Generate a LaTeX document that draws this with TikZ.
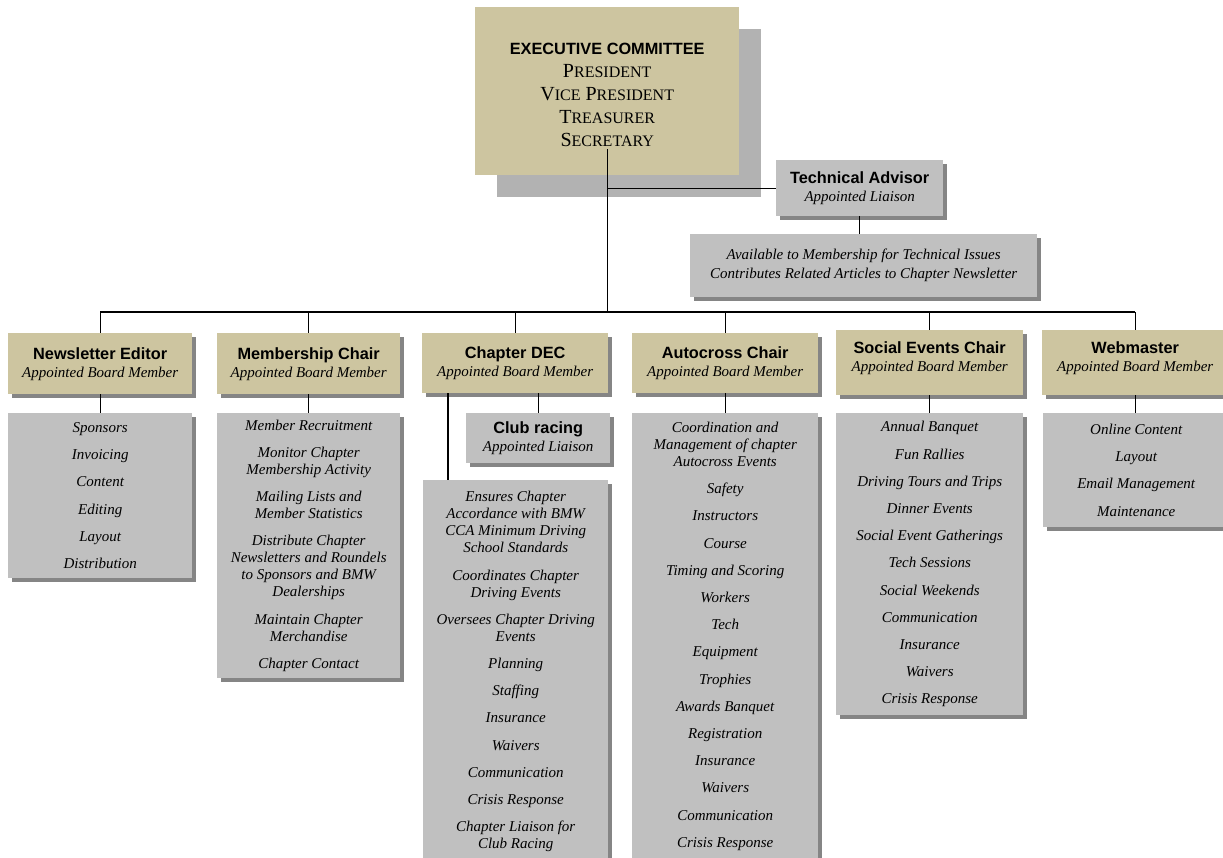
\documentclass[tikz,border=0pt]{standalone}
\usepackage{fontspec}
\setmainfont{Liberation Serif}
\setsansfont{Liberation Sans}
\usetikzlibrary{shadows}

\definecolor{boardtan}{RGB}{205,197,160}
\definecolor{boxgray}{RGB}{192,192,192}
\definecolor{execshade}{RGB}{178,178,178}

\newcommand{\fsc}[2]{{\fontsize{20}{23}\selectfont #1}{\fontsize{16}{23}\selectfont #2}}
\newcommand{\hd}[2]{{\sffamily\bfseries\fontsize{16.3}{17}\selectfont #1}\\[1pt]{\itshape #2}}
\newcommand{\nxt}{\\[10.2pt]}

\begin{document}
\begin{tikzpicture}[x=1pt,y=-1pt,
      dropgray/.style={drop shadow={shadow xshift=3.5pt,shadow yshift=-3.5pt,fill=black!48,opacity=1}},
      head/.style={fill=boardtan,anchor=north west,align=center,inner sep=0pt,dropgray,
        font=\fontsize{15}{17}\selectfont},
      listbox/.style={fill=boxgray,anchor=north west,align=center,inner sep=0pt,dropgray,
        font=\itshape\fontsize{15}{17}\selectfont},
      conn/.style={draw=black,line width=1.1pt}]
			\fill[white] (0,0) rectangle (1223,857);
			\useasboundingbox (0,0) rectangle (1223,857);
			\clip (0,0) rectangle (1223,857);
			\node[fill=boardtan,anchor=north west,minimum width=264pt,minimum height=168pt,align=center,inner sep=0pt,
				drop shadow={shadow xshift=22pt,shadow yshift=-22pt,fill=execshade,opacity=1},
				font=\fontsize{20}{23}\selectfont] (exec) at (475,7)
				{\rule{0pt}{19pt}{\sffamily\bfseries\fontsize{16.3}{23}\selectfont EXECUTIVE COMMITTEE}\\
				\fsc{P}{RESIDENT}\\\fsc{V}{ICE} \fsc{P}{RESIDENT}\\\fsc{T}{REASURER}\\\fsc{S}{ECRETARY}};
			\node[head,fill=boxgray,minimum width=167pt,minimum height=56pt] (techhead) at (776,160) {\hd{Technical Advisor}{Appointed Liaison}};
			\node[listbox,minimum width=347pt,minimum height=63pt] (techlist) at (690,234)
				{Available to Membership for Technical Issues\\[2pt]Contributes Related Articles to Chapter Newsletter};
			\node[head,minimum width=184pt,minimum height=61pt] (nlhead) at (8,333) {\hd{Newsletter Editor}{Appointed Board Member}};
			\node[head,minimum width=183pt,minimum height=61pt] (mchead) at (217,333) {\hd{Membership Chair}{Appointed Board Member}};
			\node[head,minimum width=186pt,minimum height=60pt] (dechead) at (422,333) {\hd{Chapter DEC}{Appointed Board Member}};
			\node[head,minimum width=186pt,minimum height=60pt] (achead) at (632,333) {\hd{Autocross Chair}{Appointed Board Member}};
			\node[head,minimum width=187pt,minimum height=65pt] (sehead) at (836,330) {\hd{Social Events Chair}{Appointed Board Member\rule[-13pt]{0pt}{13pt}}};
			\node[head,minimum width=186pt,minimum height=65pt] (wmhead) at (1042,330) {\hd{Webmaster}{Appointed Board Member\rule[-13pt]{0pt}{13pt}}};
			\node[listbox,minimum width=184pt,minimum height=165pt] (nllist) at (8,413)
				{Sponsors\nxt Invoicing\nxt Content\nxt Editing\nxt Layout\nxt Distribution};
			\node[listbox,minimum width=183pt,minimum height=265pt] (mclist) at (217,413)
				{Member Recruitment\nxt Monitor Chapter\\Membership Activity\nxt Mailing Lists and\\Member Statistics\nxt
				Distribute Chapter\\Newsletters and Roundels\\to Sponsors and BMW\\Dealerships\nxt
				Maintain Chapter\\Merchandise\nxt Chapter Contact};
			\node[head,fill=boxgray,minimum width=144pt,minimum height=50pt] (clubrace) at (466,413) {\hd{Club racing}{Appointed Liaison}};
			\node[listbox,minimum width=185pt,minimum height=383pt] (declist) at (423,480)
				{Ensures Chapter\\Accordance with BMW\\CCA Minimum Driving\\School Standards\nxt
				Coordinates Chapter\\Driving Events\nxt Oversees Chapter Driving\\Events\nxt
				Planning\nxt Staffing\nxt Insurance\nxt Waivers\nxt Communication\nxt Crisis Response\nxt
				Chapter Liaison for\\Club Racing};
			\node[listbox,minimum width=186pt,minimum height=446pt] (aclist) at (632,413)
				{Coordination and\\Management of chapter\\Autocross Events\nxt Safety\nxt Instructors\nxt Course\nxt
				Timing and Scoring\nxt Workers\nxt Tech\nxt Equipment\nxt Trophies\nxt Awards Banquet\nxt
				Registration\nxt Insurance\nxt Waivers\nxt Communication\nxt Crisis Response};
			\node[listbox,minimum width=187pt,minimum height=302pt] (selist) at (836,413)
				{Annual Banquet\nxt Fun Rallies\nxt Driving Tours and Trips\nxt Dinner Events\nxt
				Social Event Gatherings\nxt Tech Sessions\nxt Social Weekends\nxt Communication\nxt
				Insurance\nxt Waivers\nxt Crisis Response};
			\node[listbox,minimum width=186pt,minimum height=114pt] (wmlist) at (1043,413)
				{Online Content\nxt Layout\nxt Email Management\nxt Maintenance};
			\coordinate (execfoot) at ([yshift=26pt]exec.south);
			\coordinate (busy) at (0,312);
			\coordinate (declink) at ([xshift=25pt]declist.north west);
			\path[conn]
				(execfoot) edge (execfoot |- busy)
				(execfoot |- techhead.west) edge (techhead.west)
				(techhead.south) edge (techhead.south |- techlist.north)
				(nlhead.north |- busy) edge (wmhead.north |- busy)
				(dechead.north |- busy) edge (dechead.north)
				(dechead.south -| clubrace.north) edge (clubrace.north)
				(dechead.south -| declink) edge (declink);
			\foreach \h/\l in {nlhead/nllist,mchead/mclist,achead/aclist,sehead/selist,wmhead/wmlist}
				\path[conn] (\h.north |- busy) edge (\h.north) (\h.south) edge (\h.south |- \l.north);
		\end{tikzpicture}
\end{document}
